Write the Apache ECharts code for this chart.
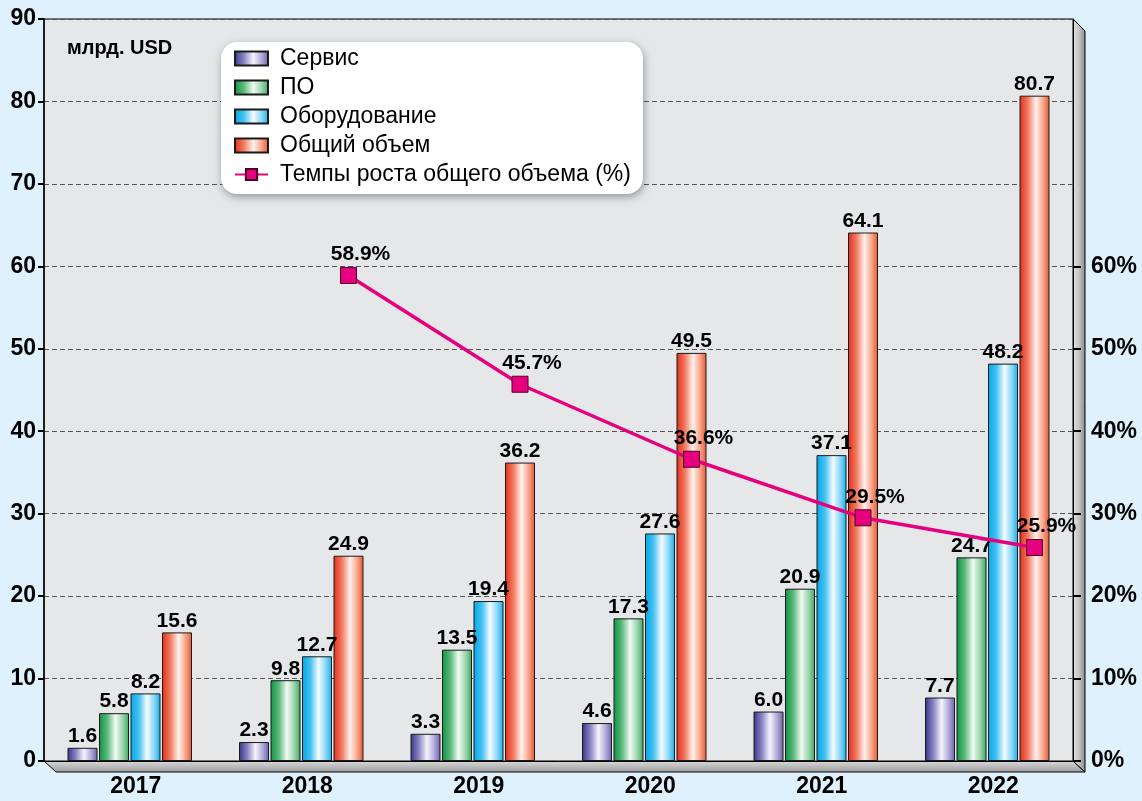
<!DOCTYPE html>
<html>
<head>
<meta charset="utf-8">
<script src="https://cdn.jsdelivr.net/npm/echarts@6/dist/echarts.min.js"></script>
<style>
  html, body { margin: 0; padding: 0; background: #dff1fc; }
  #chart { width: 1142px; height: 801px; }
</style>
</head>
<body>
<div id="chart"></div>
<script>
  var years = ['2017', '2018', '2019', '2020', '2021', '2022'];
  var service = [1.6, 2.3, 3.3, 4.6, 6.0, 7.7];
  var software = [5.8, 9.8, 13.5, 17.3, 20.9, 24.7];
  var hardware = [8.2, 12.7, 19.4, 27.6, 37.1, 48.2];
  var total = [15.6, 24.9, 36.2, 49.5, 64.1, 80.7];
  var growth = [null, 58.9, 45.7, 36.6, 29.5, 25.9];
  var leftTicks = [0, 10, 20, 30, 40, 50, 60, 70, 80, 90];
  var rightTicks = [0, 10, 20, 30, 40, 50, 60];

  // grid box + 3d depth
  var W = 1142, H = 801;
  var GL = 44, GR = 1073, GT = 19, GB = 761, D = 12;
  var barWidth = 30, barGap = 0.05;
  var catW = (GR - GL) / years.length;
  // total bar is the 4th of 4 -> its centre sits 1.5 bar slots right of the category centre
  var lineShift = 1.5 * barWidth * (1 + barGap) / catW;

  var font = 'Liberation Sans, Arial, sans-serif';

  function grad(stops) {
    return new echarts.graphic.LinearGradient(0, 0, 1, 0, stops.map(function (s) {
      return { offset: s[0], color: s[1] };
    }));
  }

  var barColors = [
    grad([[0, '#36338a'], [0.28, '#8a85c4'], [0.55, '#f6f4fd'], [0.8, '#aea6d8'], [1, '#6a62a8']]),
    grad([[0, '#0c9244'], [0.28, '#5cb97b'], [0.55, '#f2faf4'], [0.8, '#98d3a8'], [1, '#38a760']]),
    grad([[0, '#00a7e8'], [0.28, '#45c1f1'], [0.55, '#f4fbff'], [0.8, '#86d5f6'], [1, '#12afeb']]),
    grad([[0, '#e32c18'], [0.28, '#f07b61'], [0.55, '#fff2ee'], [0.8, '#f6a184'], [1, '#e55434']])
  ];

  var barLabel = {
    show: true,
    position: 'top',
    distance: 1,
    color: '#000',
    fontFamily: font,
    fontWeight: 'bold',
    fontSize: 21,
    formatter: function (p) { return p.value.toFixed(1); }
  };

  function barSeries(name, data, idx) {
    return {
      name: name,
      type: 'bar',
      data: data,
      barWidth: barWidth,
      barGap: (barGap * 100) + '%',
      itemStyle: { color: barColors[idx], borderColor: '#1a1a1a', borderWidth: 1 },
      label: barLabel,
      z: 3
    };
  }

  var chart = echarts.init(document.getElementById('chart'));
  chart.setOption({
    backgroundColor: '#dff1fc',
    animation: false,
    title: {
      text: 'млрд. USD',
      left: 62,
      top: 33,
      textStyle: { fontFamily: font, fontWeight: 'bold', fontSize: 20, color: '#000' }
    },
    legend: {
      orient: 'vertical',
      left: 221,
      top: 42,
      backgroundColor: '#fff',
      borderRadius: 16,
      padding: [5, 12, 8, 13],
      itemWidth: 33,
      itemHeight: 14,
      itemGap: 6,
      shadowBlur: 8,
      shadowColor: 'rgba(0,0,0,0.35)',
      shadowOffsetX: 1,
      shadowOffsetY: 3,
      textStyle: { fontFamily: font, fontSize: 23, color: '#000', padding: [0, 0, 0, 7] },
      data: [
        { name: 'Сервис', icon: 'rect' },
        { name: 'ПО', icon: 'rect' },
        { name: 'Оборудование', icon: 'rect' },
        { name: 'Общий объем', icon: 'rect' },
        'Темпы роста общего объема (%)'
      ]
    },
    grid: {
      left: GL,
      right: W - GR,
      top: GT,
      bottom: H - GB,
      show: true,
      backgroundColor: '#e6e7e9',
      borderColor: '#000',
      borderWidth: 1
    },
    xAxis: [
      {
        type: 'category',
        data: years,
        axisLine: { lineStyle: { color: '#000', width: 1 } },
        axisTick: { length: 6, lineStyle: { color: '#000', width: 2 } },
        axisLabel: {
          margin: 14,
          padding: [0, 0, 0, 12],
          color: '#000',
          fontFamily: font,
          fontWeight: 'bold',
          fontSize: 23
        }
      },
      { type: 'value', min: 0, max: years.length, show: false }
    ],
    yAxis: [
      {
        type: 'value',
        min: 0,
        max: 90,
        interval: 10,
        axisLine: { show: true, lineStyle: { color: '#000', width: 1.5 } },
        axisTick: { show: true, length: 6, lineStyle: { color: '#000', width: 2 }, customValues: leftTicks },
        axisLabel: { margin: 8, color: '#000', fontFamily: font, fontWeight: 'bold', fontSize: 23, customValues: leftTicks },
        splitLine: { lineStyle: { color: '#555', type: [5, 3], width: 1 } }
      },
      {
        type: 'value',
        position: 'right',
        min: 0,
        max: 90,
        interval: 10,
        axisLine: { show: true, lineStyle: { color: '#000', width: 1 } },
        axisTick: { show: true, length: 8, lineStyle: { color: '#000', width: 2 }, customValues: rightTicks },
        axisLabel: {
          margin: 18,
          color: '#000',
          fontFamily: font,
          fontWeight: 'bold',
          fontSize: 23,
          customValues: rightTicks,
          formatter: '{value}%'
        },
        splitLine: { show: false }
      }
    ],
    graphic: [
      {
        type: 'polygon',
        z: -5,
        shape: { points: [[GL, GB], [GR, GB], [GR + D, GB + D - 1], [GL + D, GB + D - 1]] },
        style: {
          fill: new echarts.graphic.LinearGradient(0, 0, 0, 1, [
            { offset: 0, color: '#dcdcdc' }, { offset: 1, color: '#9a9a9a' }
          ]),
          stroke: '#000',
          lineWidth: 1
        }
      },
      {
        type: 'polygon',
        z: -5,
        shape: { points: [[GR, GT], [GR + D, GT + D], [GR + D, GB + D - 1], [GR, GB]] },
        style: {
          fill: new echarts.graphic.LinearGradient(0, 0, 1, 0, [
            { offset: 0, color: '#e4e4e4' }, { offset: 0.5, color: '#c4c4c4' }, { offset: 1, color: '#888' }
          ]),
          stroke: '#000',
          lineWidth: 1
        }
      }
    ],
    series: [
      barSeries('Сервис', service, 0),
      barSeries('ПО', software, 1),
      barSeries('Оборудование', hardware, 2),
      barSeries('Общий объем', total, 3),
      {
        name: 'Темпы роста общего объема (%)',
        type: 'line',
        xAxisIndex: 1,
        yAxisIndex: 1,
        data: growth.map(function (v, i) { return v == null ? null : [i + 0.5 + lineShift, v]; })
          .filter(function (d) { return d; }),
        lineStyle: { color: '#e6007e', width: 3.5 },
        itemStyle: { color: '#e6007e', borderColor: '#4a0026', borderWidth: 1 },
        symbol: 'rect',
        symbolSize: 16,
        z: 5,
        label: {
          show: true,
          position: 'top',
          distance: 2,
          offset: [12, 0],
          color: '#000',
          fontFamily: font,
          fontWeight: 'bold',
          fontSize: 21,
          formatter: function (p) { return p.value[1].toFixed(1) + '%'; }
        }
      }
    ]
  });
</script>
</body>
</html>
